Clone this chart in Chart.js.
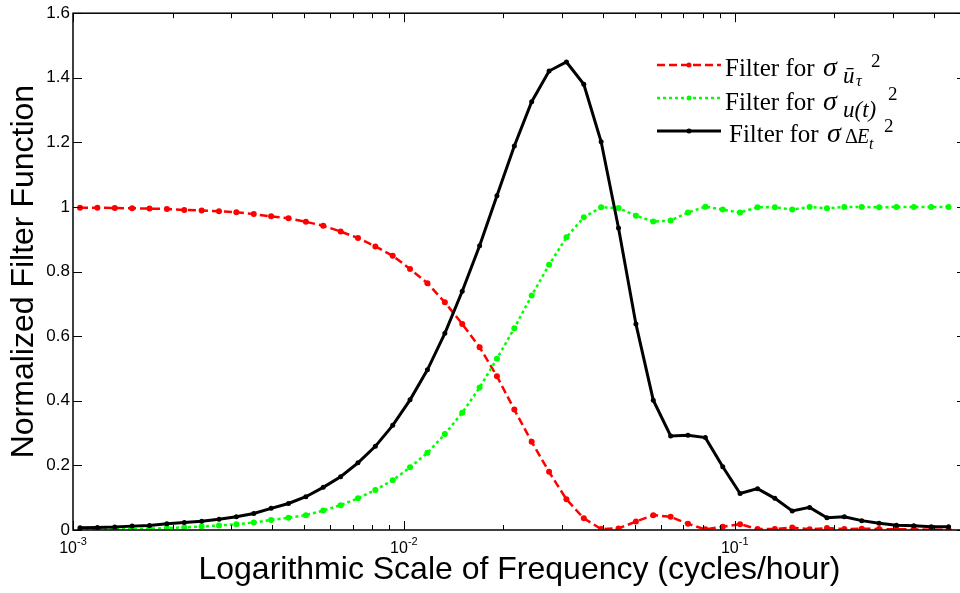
<!DOCTYPE html>
<html>
<head>
<meta charset="utf-8">
<script src="https://cdn.jsdelivr.net/npm/chart.js@4.4.1/dist/chart.umd.min.js"></script>
<style>
  body { margin: 0; overflow: hidden; background: #fff; }
</style>
</head>
<body>
<canvas id="filterChart" width="970" height="593"></canvas>
<script>
// frequencies (cycles/hour)
const freq = [0.00105, 0.001185, 0.001337, 0.001509, 0.001703, 0.001922, 0.002169, 0.002448, 0.002762, 0.003117,
  0.003518, 0.00397, 0.00448, 0.005056, 0.005705, 0.006439, 0.007266, 0.0082, 0.009253, 0.01044,
  0.01178, 0.0133, 0.01501, 0.01694, 0.01911, 0.02157, 0.02434, 0.02747, 0.031, 0.03498,
  0.03947, 0.04454, 0.05027, 0.05673, 0.06402, 0.07224, 0.08152, 0.092, 0.1038, 0.1172,
  0.1322, 0.1492, 0.1684, 0.19, 0.2144, 0.242, 0.2731, 0.3082, 0.3478, 0.3925, 0.4429];

// red dashed - filter for sigma of u bar tau
const filterUbar = [0.998, 0.998, 0.997, 0.996, 0.995, 0.994, 0.991, 0.989, 0.987, 0.984,
  0.978, 0.971, 0.965, 0.954, 0.942, 0.924, 0.904, 0.878, 0.849, 0.808,
  0.764, 0.705, 0.638, 0.566, 0.476, 0.373, 0.273, 0.180, 0.095, 0.036,
  0.003, 0.005, 0.026, 0.046, 0.041, 0.019, 0.002, 0.010, 0.018, 0.003,
  0.003, 0.008, 0.002, 0.006, 0.003, 0.004, 0.003, 0.002, 0.002, 0.001, 0.001];

// green dotted - filter for sigma of u(t)
const filterUt = [0.001, 0.001, 0.002, 0.003, 0.004, 0.006, 0.008, 0.011, 0.014, 0.018,
  0.023, 0.031, 0.038, 0.046, 0.060, 0.077, 0.098, 0.124, 0.154, 0.194,
  0.239, 0.297, 0.363, 0.441, 0.530, 0.625, 0.726, 0.821, 0.906, 0.968,
  0.999, 0.997, 0.973, 0.955, 0.958, 0.983, 1.001, 0.992, 0.983, 0.999,
  0.999, 0.992, 1.0, 0.996, 1.0, 1.0, 0.999, 1.0, 1.0, 1.0, 1.0];

// black solid - filter for sigma of delta E
const filterE = [0.007, 0.008, 0.009, 0.012, 0.014, 0.019, 0.023, 0.027, 0.033, 0.041,
  0.051, 0.067, 0.082, 0.103, 0.132, 0.165, 0.208, 0.259, 0.324, 0.403,
  0.496, 0.609, 0.739, 0.880, 1.035, 1.189, 1.326, 1.421, 1.449, 1.380,
  1.202, 0.935, 0.638, 0.402, 0.291, 0.293, 0.286, 0.196, 0.113, 0.128,
  0.098, 0.059, 0.070, 0.038, 0.041, 0.029, 0.021, 0.015, 0.013, 0.010, 0.010];

const xDecades = [0.001, 0.01, 0.1];
const xDecadeExp = ['-3', '-2', '-1'];

const toPoints = (vals) => freq.map((f, i) => ({ x: f, y: vals[i] }));

// inward ticks, box and 10^n labels like the matlab figure
const frameBox = {
  id: 'frameBox',
  afterDatasetsDraw(chart) {
    const { ctx, chartArea: a, scales: { x, y } } = chart;
    ctx.save();
    ctx.strokeStyle = '#000';
    ctx.lineWidth = 1;
    ctx.beginPath();
    x.ticks.forEach(t => {
      const e = Math.floor(Math.log10(t.value) + 1e-9);
      const m = t.value / Math.pow(10, e);
      if (Math.abs(m - Math.round(m)) > 1e-6) return;
      const px = Math.round(x.getPixelForValue(t.value)) + 0.5;
      const len = Math.round(m) === 1 ? 9 : 5;
      ctx.moveTo(px, a.bottom); ctx.lineTo(px, a.bottom - len);
      ctx.moveTo(px, a.top); ctx.lineTo(px, a.top + len);
    });
    y.ticks.forEach(t => {
      const py = Math.round(y.getPixelForValue(t.value)) + 0.5;
      ctx.moveTo(a.left, py); ctx.lineTo(a.left + 9, py);
      ctx.moveTo(a.right, py); ctx.lineTo(a.right - 9, py);
    });
    ctx.stroke();
    ctx.lineWidth = 1.5;
    ctx.strokeRect(a.left, a.top, a.right - a.left, a.bottom - a.top);

    ctx.fillStyle = '#000';
    ctx.textBaseline = 'alphabetic';
    xDecades.forEach((v, i) => {
      const px = x.getPixelForValue(v);
      ctx.font = '16px "Liberation Sans", Arial, sans-serif';
      const w1 = ctx.measureText('10').width;
      ctx.font = '11px "Liberation Sans", Arial, sans-serif';
      const w2 = ctx.measureText(xDecadeExp[i]).width;
      const x0 = px - (w1 + w2) / 2;
      ctx.font = '16px "Liberation Sans", Arial, sans-serif';
      ctx.fillText('10', x0, a.bottom + 23);
      ctx.font = '11px "Liberation Sans", Arial, sans-serif';
      ctx.fillText(xDecadeExp[i], x0 + w1, a.bottom + 15);
    });
    ctx.restore();
  }
};

const serif = '"Liberation Serif", "Times New Roman", serif';
const legendItems = [
  { color: '#ff0000', dash: [8, 4], width: 2.5, y: 65,
    runs: [{ text: 'Filter for ', font: '25px ' + serif, x: 725, y: 76 },
           { text: 'σ', font: 'italic 28px ' + serif, x: 823, y: 76 },
           { text: 'ū', font: 'italic 23px ' + serif, x: 843, y: 83 },
           { text: 'τ', font: 'italic 16px ' + serif, x: 856, y: 86 },
           { text: '2', font: '19px ' + serif, x: 871, y: 67 }] },
  { color: '#00ff00', dash: [3, 3], width: 2.5, y: 98,
    runs: [{ text: 'Filter for ', font: '25px ' + serif, x: 725, y: 110 },
           { text: 'σ', font: 'italic 28px ' + serif, x: 823, y: 110 },
           { text: 'u(t)', font: 'italic 23px ' + serif, x: 843, y: 117 },
           { text: '2', font: '19px ' + serif, x: 888, y: 100 }] },
  { color: '#000000', dash: [], width: 3, y: 131,
    runs: [{ text: 'Filter for ', font: '25px ' + serif, x: 729, y: 142 },
           { text: 'σ', font: 'italic 28px ' + serif, x: 827, y: 142 },
           { text: 'Δ', font: '20px ' + serif, x: 845, y: 143 },
           { text: 'E', font: 'italic 20px ' + serif, x: 857, y: 143 },
           { text: 't', font: 'italic 16px ' + serif, x: 869, y: 149 },
           { text: '2', font: '19px ' + serif, x: 884, y: 132 }] }
];

const mathLegend = {
  id: 'mathLegend',
  afterDraw(chart) {
    const ctx = chart.ctx;
    ctx.save();
    legendItems.forEach(it => {
      ctx.strokeStyle = it.color;
      ctx.lineWidth = it.width;
      ctx.setLineDash(it.dash);
      ctx.beginPath();
      ctx.moveTo(657, it.y);
      ctx.lineTo(721, it.y);
      ctx.stroke();
      ctx.setLineDash([]);
      ctx.fillStyle = it.color;
      ctx.beginPath();
      ctx.arc(689, it.y, 2.5, 0, Math.PI * 2);
      ctx.fill();
      ctx.fillStyle = '#000';
      it.runs.forEach(r => {
        ctx.font = r.font;
        ctx.fillText(r.text, r.x, r.y);
      });
    });
    ctx.restore();
  }
};

Chart.defaults.color = '#000';
Chart.defaults.font.family = '"Liberation Sans", Arial, sans-serif';

const ctx = document.getElementById('filterChart');
new Chart(ctx, {
  type: 'line',
  data: {
    datasets: [
      {
        label: 'Filter for σ ū_τ ^2',
        data: toPoints(filterUbar),
        borderColor: '#ff0000',
        backgroundColor: '#ff0000',
        borderWidth: 2.5,
        borderDash: [8, 4],
        pointRadius: 3,
        pointBorderWidth: 0,
        tension: 0,
        order: 3
      },
      {
        label: 'Filter for σ u(t) ^2',
        data: toPoints(filterUt),
        borderColor: '#00ff00',
        backgroundColor: '#00ff00',
        borderWidth: 2.5,
        borderDash: [3, 3],
        pointRadius: 3,
        pointBorderWidth: 0,
        tension: 0,
        order: 2
      },
      {
        label: 'Filter for σ ΔE_t ^2',
        data: toPoints(filterE),
        borderColor: '#000000',
        backgroundColor: '#000000',
        borderWidth: 3,
        pointRadius: 2.5,
        pointBorderWidth: 0,
        tension: 0,
        order: 1
      }
    ]
  },
  options: {
    responsive: false,
    animation: false,
    layout: { padding: { top: 12, right: 4, left: 0, bottom: 0 } },
    plugins: { legend: { display: false }, tooltip: { enabled: false } },
    scales: {
      x: {
        type: 'logarithmic',
        min: 0.001,
        max: 0.5,
        grid: { display: false },
        border: { display: false },
        ticks: { display: false },
        title: {
          display: true,
          text: 'Logarithmic Scale of Frequency (cycles/hour)',
          font: { size: 32, lineHeight: 1.2 },
          padding: { top: 0, bottom: 4 }
        },
        afterFit(scale) { scale.height = 63; }
      },
      y: {
        min: 0,
        max: 1.6,
        grid: { display: false, drawTicks: false },
        border: { display: false },
        ticks: {
          stepSize: 0.2,
          padding: 3,
          font: { size: 17 },
          callback: (v) => String(Math.round(v * 10) / 10)
        },
        title: {
          display: true,
          text: 'Normalized Filter Function',
          font: { size: 32, lineHeight: 1.2 },
          padding: { top: 5, bottom: 0 }
        },
        afterFit(scale) { scale.width = 73; }
      }
    }
  },
  plugins: [frameBox, mathLegend]
});
</script>
</body>
</html>
